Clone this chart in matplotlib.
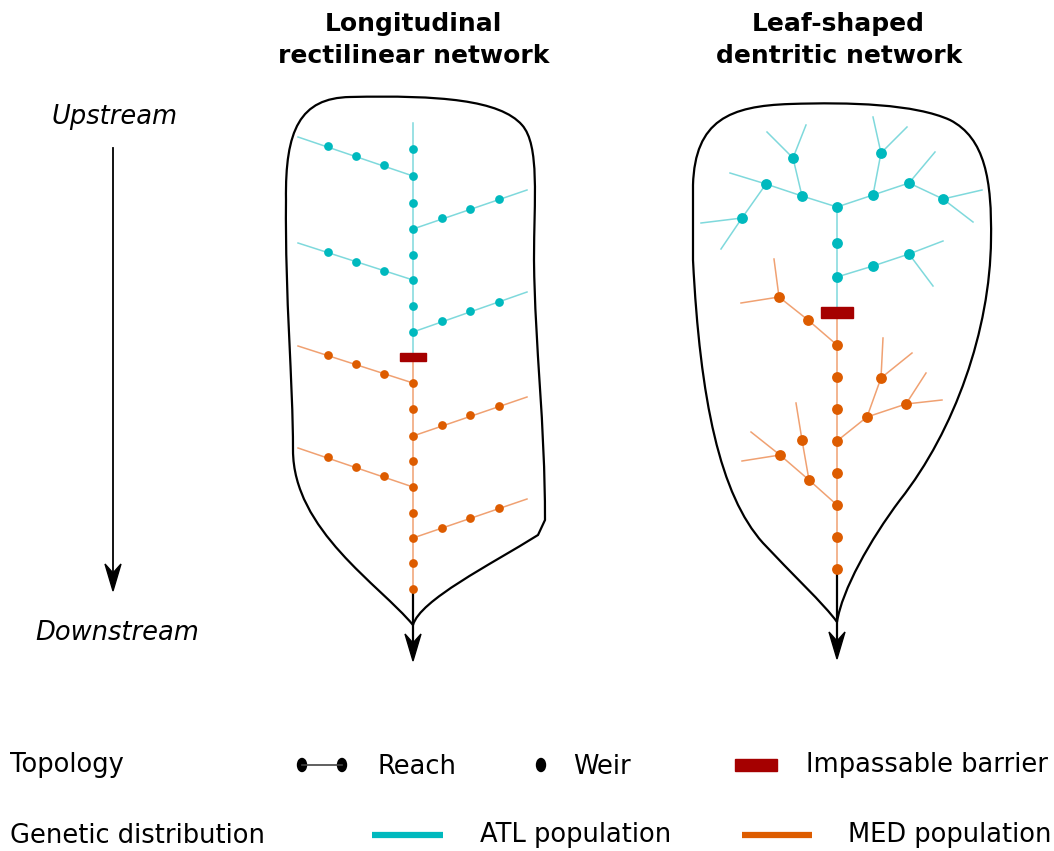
import matplotlib.pyplot as plt
from matplotlib.path import Path
from matplotlib.patches import PathPatch, Rectangle, Ellipse, Polygon

# colours
atl_node = '#00B9BE'
atl_line = '#7FD9DC'
med_node = '#DD5C00'
med_line = '#F0A172'
barrier_col = '#A50000'

# ---- longitudinal rectilinear network (pixel coords) ----
left_atl_weirs = [(413, 149), (413, 176), (413, 203), (413, 229), (413, 255), (413, 280), (413, 306), (413, 332),
                  (384, 165), (356, 156), (328, 146), (442, 218), (470, 209), (499, 199),
                  (384, 271), (356, 262), (328, 252), (442, 321), (470, 311), (499, 302)]
left_med_weirs = [(413, 383), (413, 409), (413, 436), (413, 461), (413, 487), (413, 513), (413, 538), (413, 563), (413, 589),
                  (384, 374), (356, 364), (328, 355), (442, 425), (470, 415), (499, 406),
                  (384, 476), (356, 467), (328, 457), (442, 528), (470, 518), (499, 508)]
left_atl_reaches = [[(413, 123), (413, 357)],
                    [(413, 176), (298, 137)], [(413, 229), (527, 190)],
                    [(413, 280), (298, 243)], [(413, 332), (527, 292)]]
left_med_reaches = [[(413, 357), (413, 590)],
                    [(413, 383), (298, 346)], [(413, 436), (527, 397)],
                    [(413, 487), (298, 448)], [(413, 538), (527, 499)]]
left_barrier = (413, 357, 26, 8)
left_outlet = [(413, 589), (413, 661)]

# ---- leaf-shaped dendritic network ----
right_atl_weirs = [(837, 207), (837, 243), (837, 277), (802, 196), (766, 184), (742, 218), (793, 158),
                   (873, 195), (909, 183), (943, 199), (881, 153), (873, 266), (909, 254)]
right_med_weirs = [(837, 345), (837, 377), (837, 409), (837, 441), (837, 473), (837, 505), (837, 537), (837, 569),
                   (808, 320), (779, 297), (867, 417), (906, 404), (881, 378), (809, 480), (780, 455), (802, 440)]
right_atl_reaches = [[(837, 207), (837, 312)],
                     [(837, 207), (802, 196), (766, 184), (730, 173)],
                     [(766, 184), (742, 218), (701, 223)], [(742, 218), (721, 249)],
                     [(802, 196), (793, 158), (767, 132)], [(793, 158), (806, 125)],
                     [(837, 207), (873, 195), (909, 183), (943, 199), (982, 190)],
                     [(943, 199), (973, 222)], [(909, 183), (935, 152)],
                     [(873, 195), (881, 153), (873, 117)], [(881, 153), (907, 127)],
                     [(837, 277), (873, 266), (909, 254), (943, 241)], [(909, 254), (933, 286)]]
right_med_reaches = [[(837, 312), (837, 569)],
                     [(837, 345), (808, 320), (779, 297), (741, 303)], [(779, 297), (774, 259)],
                     [(837, 441), (867, 417), (906, 404), (942, 400)], [(906, 404), (926, 373)],
                     [(867, 417), (881, 378), (883, 338)], [(881, 378), (912, 353)],
                     [(837, 505), (809, 480), (780, 455), (751, 432)], [(780, 455), (742, 461)],
                     [(809, 480), (802, 440), (796, 403)]]
right_barrier = (837, 312, 32, 11)
right_outlet = [(837, 569), (837, 659)]

# leaf outlines (bezier control points)
M, C, L = Path.MOVETO, Path.CURVE4, Path.LINETO
left_leaf = [((413, 625), M),
             ((380, 585), C), ((293, 530), C), ((293, 450), C),
             ((293, 380), C), ((285, 300), C), ((286, 200), C),
             ((285, 130), C), ((300, 98), C), ((350, 97), C),
             ((440, 95), C), ((500, 100), C), ((522, 125), C),
             ((540, 145), C), ((534, 200), C), ((534, 260), C),
             ((535, 350), C), ((545, 420), C), ((545, 520), C),
             ((538, 535), L),
             ((490, 565), C), ((420, 600), C), ((413, 625), C)]
right_leaf = [((837, 622), M),
              ((825, 605), C), ((790, 572), C), ((763, 543), C),
              ((720, 495), C), ((700, 400), C), ((693, 260), C),
              ((693, 185), L),
              ((695, 120), C), ((730, 106), C), ((790, 104), C),
              ((850, 102), C), ((915, 104), C), ((950, 120), C),
              ((985, 138), C), ((992, 180), C), ((991, 240), C),
              ((990, 330), C), ((955, 430), C), ((900, 500), C),
              ((870, 540), C), ((842, 590), C), ((837, 622), C)]


def arrow_down(ax, x, y0, y1, lw):
    # shaft plus a notched arrowhead whose tip is at (x, y1)
    ax.plot([x, x], [y0, y1 - 14], color='black', lw=lw, zorder=2)
    ax.add_patch(Polygon([(x, y1), (x - 8, y1 - 27), (x, y1 - 18), (x + 8, y1 - 27)],
                         closed=True, color='black', zorder=2))


def draw_network(ax, atl_reaches, med_reaches, atl_weirs, med_weirs, barrier, outlet, leaf, ms):
    verts = [p for p, c in leaf]
    codes = [c for p, c in leaf]
    ax.add_patch(PathPatch(Path(verts, codes), fill=False, lw=1.6, ec='black', zorder=1))
    for r in atl_reaches:
        ax.plot([p[0] for p in r], [p[1] for p in r], color=atl_line, lw=1.1, zorder=2)
    for r in med_reaches:
        ax.plot([p[0] for p in r], [p[1] for p in r], color=med_line, lw=1.1, zorder=2)
    arrow_down(ax, outlet[0][0], outlet[0][1], outlet[1][1], 1.6)
    ax.plot([p[0] for p in atl_weirs], [p[1] for p in atl_weirs], 'o', color=atl_node, ms=ms, mew=0, zorder=3)
    ax.plot([p[0] for p in med_weirs], [p[1] for p in med_weirs], 'o', color=med_node, ms=ms, mew=0, zorder=3)
    bx, by, bw, bh = barrier
    ax.add_patch(Rectangle((bx - bw / 2, by - bh / 2), bw, bh, color=barrier_col, zorder=4))


fig = plt.figure(figsize=(10.54, 8.51), dpi=100)
ax = fig.add_axes([0, 0, 1, 1])
ax.set_xlim(0, 1054)
ax.set_ylim(851, 0)
ax.axis('off')

draw_network(ax, left_atl_reaches, left_med_reaches, left_atl_weirs, left_med_weirs,
             left_barrier, left_outlet, left_leaf, 6.3)
draw_network(ax, right_atl_reaches, right_med_reaches, right_atl_weirs, right_med_weirs,
             right_barrier, right_outlet, right_leaf, 7.8)

# titles
ax.text(413, 24, 'Longitudinal', ha='center', va='center', fontsize=18, fontweight='bold')
ax.text(414, 56, 'rectilinear network', ha='center', va='center', fontsize=18, fontweight='bold')
ax.text(838, 24, 'Leaf-shaped', ha='center', va='center', fontsize=18, fontweight='bold')
ax.text(839, 56, 'dentritic network', ha='center', va='center', fontsize=18, fontweight='bold')

# upstream / downstream
ax.text(115, 117, 'Upstream', ha='center', va='center', fontsize=18.5, style='italic')
ax.text(117, 633, 'Downstream', ha='center', va='center', fontsize=18.5, style='italic')
arrow_down(ax, 113, 148, 591, 1.3)

# legend
fs = 18.5
ax.text(10, 765, 'Topology', ha='left', va='center', fontsize=fs)
ax.text(10, 836, 'Genetic distribution', ha='left', va='center', fontsize=fs)
ax.plot([302, 342], [765, 765], color='#444444', lw=1.2)
for x in (302, 342, 541):
    ax.add_patch(Ellipse((x, 765), 9, 13, color='black'))
ax.text(377, 767, 'Reach', ha='left', va='center', fontsize=fs)
ax.text(573, 767, 'Weir', ha='left', va='center', fontsize=fs)
ax.add_patch(Rectangle((735, 759), 42, 12, color=barrier_col))
ax.text(806, 765, 'Impassable barrier', ha='left', va='center', fontsize=fs)
ax.plot([372, 443], [835, 835], color=atl_node, lw=4.5, solid_capstyle='butt')
ax.text(480, 835, 'ATL population', ha='left', va='center', fontsize=fs)
ax.plot([742, 812], [835, 835], color=med_node, lw=4.5, solid_capstyle='butt')
ax.text(848, 835, 'MED population', ha='left', va='center', fontsize=fs)

fig.savefig('out.png', dpi=100)
